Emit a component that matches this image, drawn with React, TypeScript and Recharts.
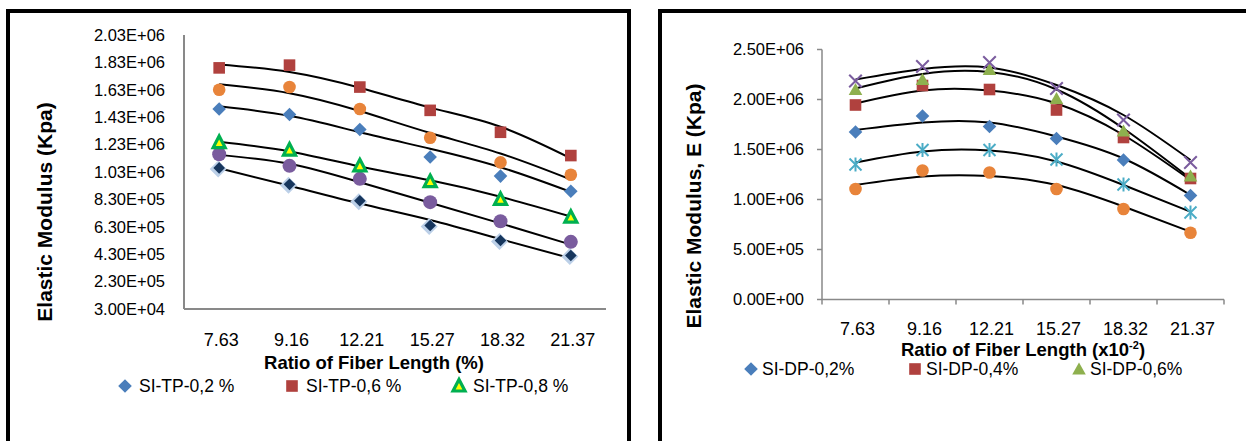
import React from 'react'
import { ComposedChart, Line, XAxis, YAxis, Legend } from 'recharts'

// categories (ratio of fiber length)
const categories = ['7.63', '9.16', '12.21', '15.27', '18.32', '21.37']

// left panel: SI-TP series, marker values
const tp02 = [1490000, 1450000, 1340000, 1140000, 1000000, 890000]
const tp06 = [1790000, 1810000, 1650000, 1480000, 1320000, 1150000]
const tp08 = [1245000, 1190000, 1075000, 960000, 830000, 700000]
const tpOrange = [1630000, 1650000, 1490000, 1280000, 1100000, 1010000]
const tpPurple = [1160000, 1075000, 980000, 810000, 670000, 520000]
const tpNavy = [1060000, 940000, 820000, 640000, 530000, 420000]

// left panel: polynomial trend lines read at each category
const tp02Trend = [1510000, 1440000, 1320000, 1200000, 1065000, 885000]
const tp06Trend = [1815000, 1760000, 1645000, 1500000, 1360000, 1130000]
const tp08Trend = [1250000, 1180000, 1070000, 970000, 850000, 705000]
const tpOrangeTrend = [1670000, 1605000, 1475000, 1315000, 1165000, 975000]
const tpPurpleTrend = [1155000, 1090000, 955000, 805000, 655000, 500000]
const tpNavyTrend = [1057000, 930000, 800000, 680000, 540000, 400000]

// right panel: SI-DP series, marker values
const dp02 = [1675000, 1835000, 1730000, 1610000, 1395000, 1040000]
const dp04 = [1945000, 2140000, 2100000, 1895000, 1620000, 1210000]
const dp06 = [2100000, 2200000, 2300000, 2010000, 1685000, 1235000]
const dpCross = [2185000, 2330000, 2370000, 2110000, 1795000, 1370000]
const dpStar = [1350000, 1495000, 1495000, 1400000, 1150000, 870000]
const dpCircle = [1105000, 1290000, 1270000, 1105000, 905000, 668000]

// right panel: trend lines read at each category
const dp02Trend = [1695000, 1770000, 1770000, 1630000, 1410000, 1045000]
const dp04Trend = [1960000, 2090000, 2090000, 1960000, 1645000, 1195000]
const dp06Trend = [2110000, 2255000, 2275000, 2100000, 1710000, 1210000]
const dpCrossTrend = [2200000, 2305000, 2320000, 2145000, 1845000, 1395000]
const dpStarTrend = [1370000, 1480000, 1490000, 1380000, 1145000, 878000]
const dpCircleTrend = [1145000, 1230000, 1235000, 1145000, 930000, 678000]

// axis ticks
const leftYTicks = [30000, 230000, 430000, 630000, 830000, 1030000, 1230000, 1430000, 1630000, 1830000, 2030000]
const rightYTicks = [0, 500000, 1000000, 1500000, 2000000, 2500000]
const xTicks = [0, 0.5, 1, 1.5, 2, 2.5, 3, 3.5, 4, 4.5, 5, 5.5, 6]

const FONT = "'Liberation Sans', Arial, sans-serif"
const AXIS_GRAY = '#898989'

type SeriesDef = {
  key: string
  name: string
  marker: string
  color: string
  values: number[]
  trend: number[]
}

const leftSeries: SeriesDef[] = [
  { key: 'navy', name: 'SI-TP-1,2 %', marker: 'navyDiamond', color: '#17365d', values: tpNavy, trend: tpNavyTrend },
  { key: 'purple', name: 'SI-TP-1,0 %', marker: 'bigCircle', color: '#7a5c9e', values: tpPurple, trend: tpPurpleTrend },
  { key: 'tp08', name: 'SI-TP-0,8 %', marker: 'triangleOutline', color: '#00b050', values: tp08, trend: tp08Trend },
  { key: 'tp02', name: 'SI-TP-0,2 %', marker: 'diamond', color: '#4a7ebb', values: tp02, trend: tp02Trend },
  { key: 'orange', name: 'SI-TP-0,4 %', marker: 'circle', color: '#e8843a', values: tpOrange, trend: tpOrangeTrend },
  { key: 'tp06', name: 'SI-TP-0,6 %', marker: 'square', color: '#b0413e', values: tp06, trend: tp06Trend },
]

const rightSeries: SeriesDef[] = [
  { key: 'circle', name: 'SI-DP-1,2%', marker: 'circle', color: '#e8843a', values: dpCircle, trend: dpCircleTrend },
  { key: 'star', name: 'SI-DP-1,0%', marker: 'asterisk', color: '#4bacc6', values: dpStar, trend: dpStarTrend },
  { key: 'dp02', name: 'SI-DP-0,2%', marker: 'diamond', color: '#4a7ebb', values: dp02, trend: dp02Trend },
  { key: 'dp04', name: 'SI-DP-0,4%', marker: 'square', color: '#b0413e', values: dp04, trend: dp04Trend },
  { key: 'dp06', name: 'SI-DP-0,6%', marker: 'triangle', color: '#8eb04e', values: dp06, trend: dp06Trend },
  { key: 'cross', name: 'SI-DP-0,8%', marker: 'x', color: '#7a5c9e', values: dpCross, trend: dpCrossTrend },
]

const fmtE = (v: number) => {
  const [m, e] = v.toExponential(2).split('e')
  const sign = e[0] === '-' ? '-' : '+'
  return `${m}E${sign}${e.replace(/[+-]/, '').padStart(2, '0')}`
}

const buildRows = (series: SeriesDef[]) =>
  categories.map((c, i) => {
    const row: Record<string, number | string> = { x: i + 0.5, cat: c }
    series.forEach(s => {
      row[s.key] = s.values[i]
      row[s.key + 'T'] = s.trend[i]
    })
    return row
  })

function Marker({ kind, cx, cy, color }: { kind: string; cx: number; cy: number; color: string }) {
  const d = (s: number) => `${cx},${cy - s} ${cx + s},${cy} ${cx},${cy + s} ${cx - s},${cy}`
  switch (kind) {
    case 'diamond':
      return <polygon points={d(6.8)} fill={color} />
    case 'navyDiamond':
      return (
        <g>
          <polygon points={d(8.5)} fill="#bcd0e8" transform="translate(-1,1)" />
          <polygon points={d(5.8)} fill={color} />
        </g>
      )
    case 'square':
      return <rect x={cx - 5.8} y={cy - 5.8} width={11.6} height={11.6} fill={color} />
    case 'triangleOutline':
      return (
        <polygon
          points={`${cx},${cy - 6.5} ${cx + 6},${cy + 5} ${cx - 6},${cy + 5}`}
          fill="#ffff00"
          stroke={color}
          strokeWidth={3.2}
        />
      )
    case 'triangle':
      return <polygon points={`${cx},${cy - 6.5} ${cx + 6.8},${cy + 5.5} ${cx - 6.8},${cy + 5.5}`} fill={color} />
    case 'circle':
      return <circle cx={cx} cy={cy} r={6.3} fill={color} />
    case 'bigCircle':
      return <circle cx={cx} cy={cy} r={7} fill={color} />
    case 'x':
      return (
        <g stroke={color} strokeWidth={2}>
          <line x1={cx - 6.3} y1={cy - 6.3} x2={cx + 6.3} y2={cy + 6.3} />
          <line x1={cx - 6.3} y1={cy + 6.3} x2={cx + 6.3} y2={cy - 6.3} />
        </g>
      )
    case 'asterisk':
      return (
        <g stroke={color} strokeWidth={2}>
          <line x1={cx - 6} y1={cy - 6} x2={cx + 6} y2={cy + 6} />
          <line x1={cx - 6} y1={cy + 6} x2={cx + 6} y2={cy - 6} />
          <line x1={cx} y1={cy - 7} x2={cx} y2={cy + 7} />
        </g>
      )
    default:
      return null
  }
}

type PanelCfg = {
  series: SeriesDef[]
  legendKeys: string[]
  width: number
  height: number
  margin: { top: number; right: number; bottom: number; left: number }
  yWidth: number
  yDomain: [number, number]
  yTicks: number[]
  yTickSize: number
  yTickMargin: number
  axisWidth: number
  boundaryTicks: boolean
  xLabelDy: number
  yTitle: string
  yTitlePos: { x: number; y: number }
  xTitle: React.ReactNode
  xTitlePos: { x: number; y: number }
  legendPos: { left: number; top: number }
  legendItemWidth: number
  legendGap: number
}

function Panel({ cfg }: { cfg: PanelCfg }) {
  const rows = buildRows(cfg.series)
  const legendItems = cfg.legendKeys.map(k => cfg.series.find(s => s.key === k)!)

  const xTick = (props: any) => {
    const { x, y, payload, index } = props
    const v = payload.value
    if (Number.isInteger(v)) {
      return cfg.boundaryTicks ? (
        <line key={`t-${index}`} x1={x} x2={x} y1={y} y2={y + 5} stroke={AXIS_GRAY} strokeWidth={cfg.axisWidth} />
      ) : (
        <g key={`t-${index}`} />
      )
    }
    return (
      <text
        key={`t-${index}`}
        x={x + 2}
        y={y + cfg.xLabelDy}
        textAnchor="middle"
        dominantBaseline="central"
        fontSize={18}
        fill="#000"
      >
        {categories[Math.floor(v)]}
      </text>
    )
  }

  const yTitle = () => (
    <text
      x={cfg.yTitlePos.x}
      y={cfg.yTitlePos.y}
      transform={`rotate(-90, ${cfg.yTitlePos.x}, ${cfg.yTitlePos.y})`}
      textAnchor="middle"
      dominantBaseline="central"
      fontSize={21}
      fontWeight="bold"
      fill="#000"
    >
      {cfg.yTitle}
    </text>
  )

  const xTitle = () => (
    <text
      x={cfg.xTitlePos.x}
      y={cfg.xTitlePos.y}
      textAnchor="middle"
      dominantBaseline="central"
      fontSize={18.5}
      fontWeight="bold"
      fill="#000"
    >
      {cfg.xTitle}
    </text>
  )

  const legendContent = () => (
    <div style={{ display: 'flex', fontSize: 17.5, lineHeight: '20px', color: '#000', fontFamily: FONT }}>
      {legendItems.map(s => (
        <div key={s.key} style={{ width: cfg.legendItemWidth, display: 'flex', alignItems: 'center' }}>
          <svg width={14} height={14} style={{ overflow: 'visible' }}>
            <Marker kind={s.marker === 'navyDiamond' ? 'diamond' : s.marker} cx={7} cy={7} color={s.color} />
          </svg>
          <span style={{ marginLeft: cfg.legendGap, whiteSpace: 'nowrap' }}>{s.name}</span>
        </div>
      ))}
    </div>
  )

  return (
    <ComposedChart width={cfg.width} height={cfg.height} data={rows} margin={cfg.margin}>
      <YAxis
        type="number"
        domain={cfg.yDomain}
        ticks={cfg.yTicks}
        interval={0}
        width={cfg.yWidth}
        tickFormatter={fmtE}
        tickSize={cfg.yTickSize}
        tickMargin={cfg.yTickMargin}
        tickLine={cfg.yTickSize > 0 ? { stroke: AXIS_GRAY, strokeWidth: cfg.axisWidth } : false}
        axisLine={{ stroke: AXIS_GRAY, strokeWidth: cfg.axisWidth }}
        tick={{ fontSize: 16.5, fill: '#000' }}
        label={{ content: yTitle }}
      />
      <XAxis
        type="number"
        dataKey="x"
        domain={[0, 6]}
        ticks={xTicks}
        interval={0}
        height={30}
        tickSize={0}
        tickMargin={0}
        tickLine={false}
        axisLine={{ stroke: AXIS_GRAY, strokeWidth: cfg.axisWidth }}
        tick={xTick}
        label={{ content: xTitle }}
      />
      {cfg.series.map(s => (
        <Line
          key={s.key}
          dataKey={s.key}
          name={s.name}
          stroke="none"
          isAnimationActive={false}
          activeDot={false}
          dot={(p: any) => <Marker key={`${s.key}-${p.index}`} kind={s.marker} cx={p.cx} cy={p.cy} color={s.color} />}
        />
      ))}
      {cfg.series.map(s => (
        <Line
          key={s.key + 'T'}
          dataKey={s.key + 'T'}
          type="natural"
          stroke="#000"
          strokeWidth={2}
          dot={false}
          activeDot={false}
          legendType="none"
          isAnimationActive={false}
        />
      ))}
      <Legend
        layout="horizontal"
        verticalAlign="middle"
        align="center"
        content={legendContent}
        wrapperStyle={{ left: cfg.legendPos.left, top: cfg.legendPos.top, width: 560 }}
      />
    </ComposedChart>
  )
}

const leftCfg: PanelCfg = {
  series: leftSeries,
  legendKeys: ['tp02', 'tp06', 'tp08'],
  width: 640,
  height: 441,
  margin: { top: 35, right: 34, bottom: 102, left: 0 },
  yWidth: 184,
  yDomain: [30000, 2030000],
  yTicks: leftYTicks,
  yTickSize: 0,
  yTickMargin: 19,
  axisWidth: 2,
  boundaryTicks: false,
  xLabelDy: 31,
  yTitle: 'Elastic Modulus (Kpa)',
  yTitlePos: { x: 44, y: 212 },
  xTitle: 'Ratio of Fiber Length (%)',
  xTitlePos: { x: 374, y: 362 },
  legendPos: { left: 118, top: 376 },
  legendItemWidth: 167,
  legendGap: 7,
}

const rightCfg: PanelCfg = {
  series: rightSeries,
  legendKeys: ['dp02', 'dp04', 'dp06'],
  width: 606,
  height: 441,
  margin: { top: 49.5, right: 22, bottom: 111.5, left: 0 },
  yWidth: 182,
  yDomain: [0, 2500000],
  yTicks: rightYTicks,
  yTickSize: 5,
  yTickMargin: 13,
  axisWidth: 1.5,
  boundaryTicks: true,
  xLabelDy: 29,
  yTitle: 'Elastic Modulus, E (Kpa)',
  yTitlePos: { x: 53, y: 206 },
  xTitle: (
    <>
      <tspan>Ratio of Fiber Length (x10</tspan>
      <tspan dy={-4.5} fontSize={11}>-2</tspan>
      <tspan dy={4.5}>)</tspan>
    </>
  ),
  xTitlePos: { x: 383, y: 349 },
  legendPos: { left: 104, top: 359 },
  legendItemWidth: 164,
  legendGap: 4,
}

export default function App() {
  return (
    <div
      style={{
        position: 'absolute',
        left: 0,
        top: 0,
        width: 1246,
        height: 441,
        background: '#fff',
        overflow: 'hidden',
        fontFamily: FONT,
      }}
    >
      <div style={{ position: 'absolute', left: 6, top: 9, width: 625, height: 480, border: '4px solid #000', boxSizing: 'border-box' }} />
      <div style={{ position: 'absolute', left: 658, top: 9, width: 620, height: 480, border: '4px solid #000', boxSizing: 'border-box' }} />
      <div style={{ position: 'absolute', left: 0, top: 0 }}>
        <Panel cfg={leftCfg} />
      </div>
      <div style={{ position: 'absolute', left: 640, top: 0 }}>
        <Panel cfg={rightCfg} />
      </div>
    </div>
  )
}
